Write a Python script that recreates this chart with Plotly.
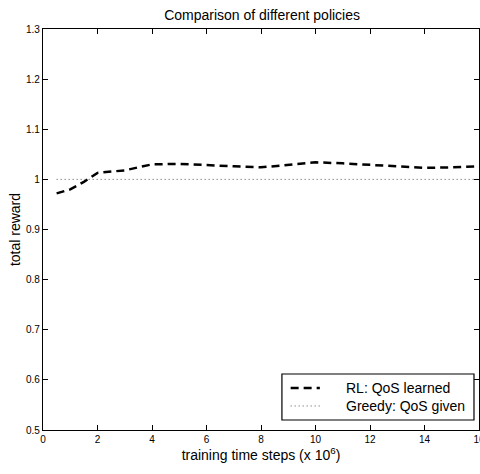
import plotly.graph_objects as go

# Data
steps = [0.5, 1, 1.5, 2, 3, 4, 5, 6, 7, 8, 9, 10, 11, 12, 13, 14, 15, 16]
rl_reward = [0.972, 0.980, 0.995, 1.013, 1.018, 1.030, 1.031, 1.028, 1.026, 1.024,
             1.029, 1.034, 1.032, 1.029, 1.026, 1.023, 1.024, 1.026]
greedy_steps = [0.5, 16]
greedy_reward = [1.0, 1.0]
x_ticks = [0, 2, 4, 6, 8, 10, 12, 14, 16]
y_ticks = [0.5, 0.6, 0.7, 0.8, 0.9, 1.0, 1.1, 1.2, 1.3]
y_tick_labels = ["0.5", "0.6", "0.7", "0.8", "0.9", "1", "1.1", "1.2", "1.3"]
series_names = ["RL: QoS learned", "Greedy: QoS given"]

FONT = "Liberation Sans, Arial, Helvetica, sans-serif"
RL_LINE = dict(color="black", width=2.5, dash="8px,5px")
GR_LINE = dict(color="#555555", width=1, dash="1px,3px")

fig = go.Figure()
fig.add_trace(go.Scatter(x=steps, y=rl_reward, mode="lines", name=series_names[0],
                         line=RL_LINE, showlegend=False))
fig.add_trace(go.Scatter(x=greedy_steps, y=greedy_reward, mode="lines", name=series_names[1],
                         line=GR_LINE, showlegend=False))

axis_common = dict(showline=True, linecolor="black", linewidth=1.3, mirror="allticks",
                   ticks="inside", ticklen=5, tickcolor="black", tickwidth=1,
                   showgrid=False, zeroline=False, automargin=False,
                   ticklabeloverflow="allow",
                   tickfont=dict(family=FONT, size=10, color="black"))

# Legend box (drawn in paper coordinates, matlab-style)
shapes = [
    dict(type="rect", xref="paper", yref="paper", x0=0.548, x1=0.9885, y0=0.025, y1=0.1397,
         line=dict(color="black", width=1.2), fillcolor="white", layer="above"),
    dict(type="line", xref="paper", yref="paper", x0=0.568, x1=0.635, y0=0.1047, y1=0.1047,
         line=RL_LINE, layer="above"),
    dict(type="line", xref="paper", yref="paper", x0=0.568, x1=0.635, y0=0.0599, y1=0.0599,
         line=GR_LINE, layer="above"),
]
annotations = [
    dict(text=series_names[0], xref="paper", yref="paper", x=0.6904, y=0.1047,
         xanchor="left", yanchor="middle", showarrow=False, font=dict(size=14, family=FONT)),
    dict(text=series_names[1], xref="paper", yref="paper", x=0.6904, y=0.0599,
         xanchor="left", yanchor="middle", showarrow=False, font=dict(size=14, family=FONT)),
]

fig.update_layout(
    width=480, height=474,
    margin=dict(l=43, r=1, t=29, b=44),
    paper_bgcolor="white", plot_bgcolor="white",
    font=dict(family=FONT, color="black"),
    title=dict(text="Comparison of different policies", x=0.546, xanchor="center",
               y=0.969, yanchor="middle", font=dict(size=14, family=FONT)),
    xaxis=dict(range=[0, 16], tickvals=x_ticks, ticktext=[str(v) for v in x_ticks],
               title=dict(text="training time steps (x 10<sup>6</sup>)", standoff=5,
                          font=dict(size=14, family=FONT)),
               **axis_common),
    yaxis=dict(range=[0.5, 1.3], tickvals=y_ticks, ticktext=y_tick_labels,
               title=dict(text="total reward", standoff=2, font=dict(size=14, family=FONT)),
               **axis_common),
    shapes=shapes,
    annotations=annotations,
    showlegend=False,
)

fig.write_html("out.html", config={"displayModeBar": False},
               post_script="document.body.style.margin='0';document.body.style.overflow='hidden';")
